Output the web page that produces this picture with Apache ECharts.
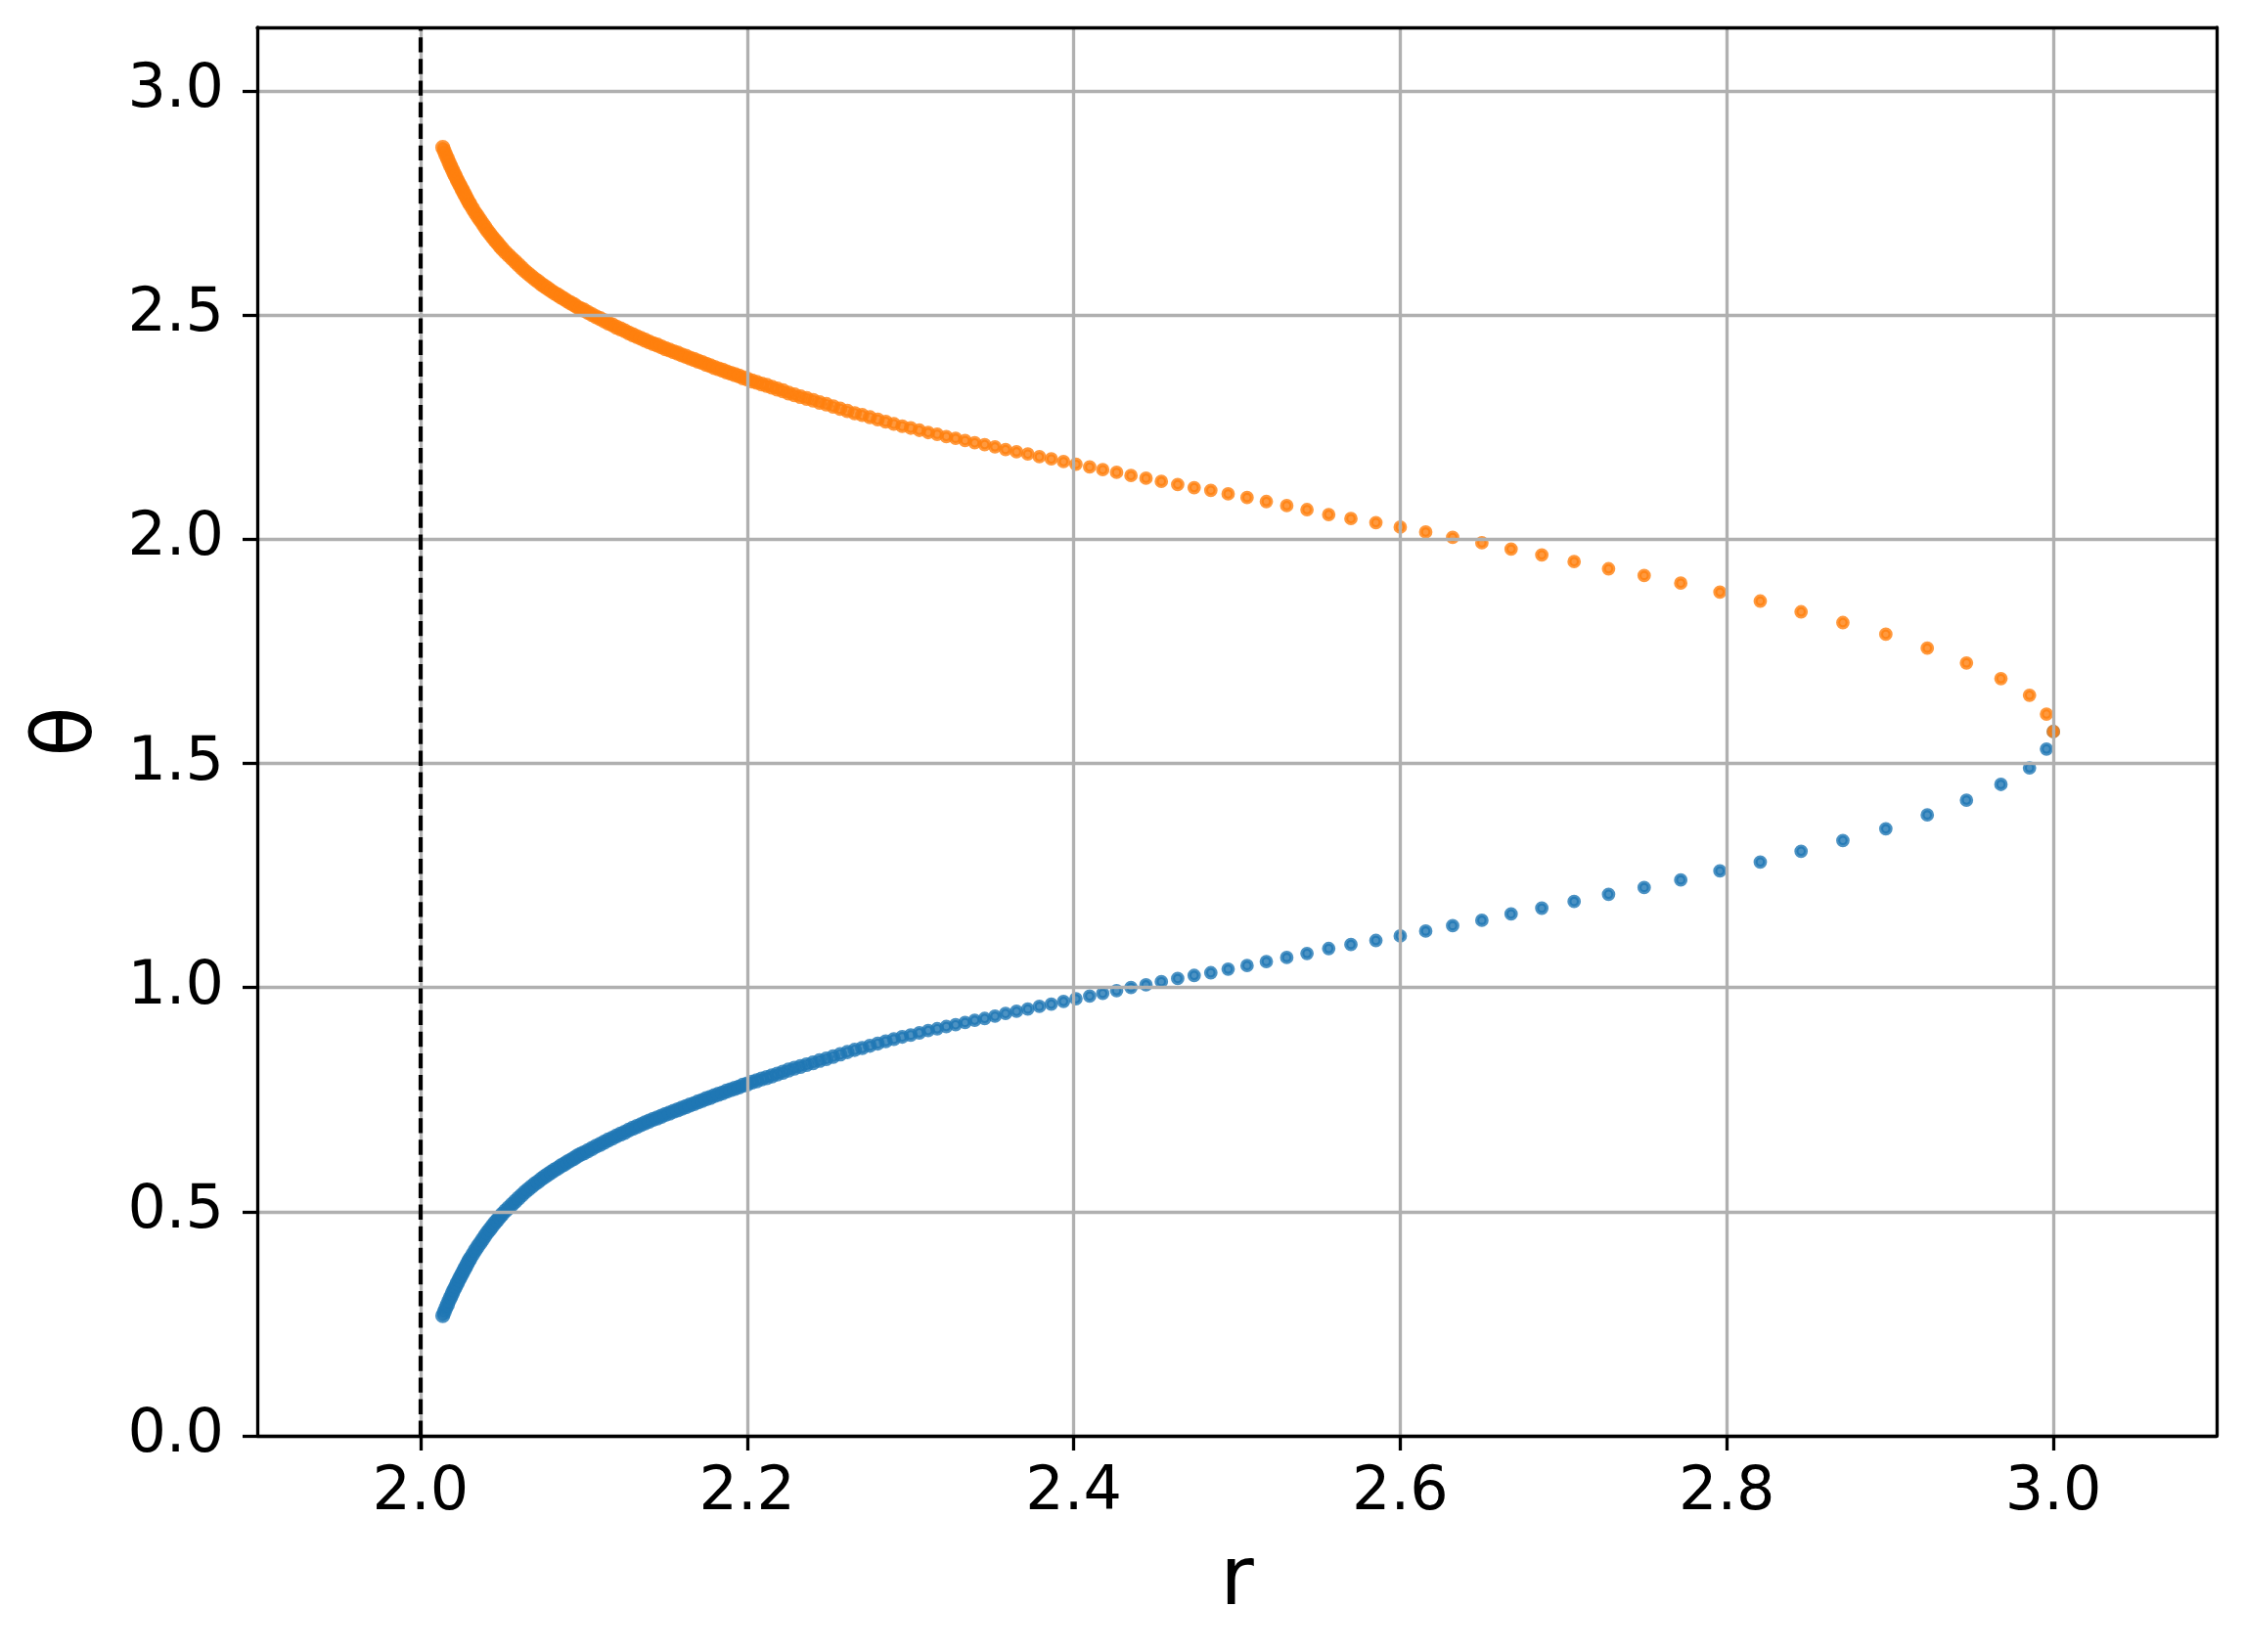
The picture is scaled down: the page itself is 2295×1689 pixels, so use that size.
<!DOCTYPE html>
<html>
<head>
<meta charset="utf-8">
<script src="https://cdn.jsdelivr.net/npm/echarts@6/dist/echarts.min.js"></script>
<style>
html, body { margin: 0; padding: 0; background: #fff; }
#main { width: 2295px; height: 1689px; }
</style>
</head>
<body>
<div id="main"></div>
<script>
// r positions (shared by both branches)
var rValues = [
  2.0136,2.0145,2.0155,2.0165,2.0175,2.0185,2.0195,2.0205,2.0215,2.0225,
  2.0235,2.0245,2.0255,2.0265,2.0275,2.0285,2.0295,2.0305,2.032,2.0335,
  2.035,2.0365,2.038,2.0395,2.041,2.0425,2.044,2.0455,2.047,2.0485,
  2.050,2.052,2.054,2.056,2.058,2.060,2.062,2.064,2.066,2.068,
  2.070,2.072,2.074,2.076,2.078,2.080,2.082,2.084,2.086,2.088,
  2.090,2.092,2.094,2.096,2.098,2.100,2.1025,2.105,2.1075,2.110,
  2.1125,2.115,2.1175,2.120,2.1225,2.125,2.1275,2.130,2.1325,2.135,
  2.1375,2.140,2.1425,2.145,2.1475,2.150,2.1525,2.155,2.1575,2.160,
  2.1625,2.165,2.1675,2.170,2.1725,2.175,2.1775,2.180,2.1825,2.185,
  2.1875,2.190,2.1925,2.195,2.1975,2.2002,2.2030,2.2059,2.2089,2.2120,
  2.2152,2.2185,2.2219,2.2254,2.2290,2.2327,2.2365,2.2404,2.2444,2.2485,
  2.2527,2.2570,2.2614,2.2659,2.2705,2.2752,2.2800,2.2849,2.2899,2.2950,
  2.3002,2.3055,2.3109,2.3164,2.3220,2.3277,2.3335,2.3394,2.3455,2.3518,
  2.3583,2.3650,2.3719,2.3790,2.3863,2.3938,2.4014,2.4098,2.4178,2.4263,
  2.4351,2.4443,2.4537,2.4637,2.4738,2.4840,2.4946,2.5062,2.5180,2.5305,
  2.5429,2.5562,2.5698,2.5851,2.6000,2.6156,2.6321,2.6500,2.6679,2.6867,
  2.7065,2.7276,2.7494,2.7718,2.7958,2.8205,2.8455,2.8711,2.8974,2.9228,
  2.9468,2.9679,2.9854,2.9958,3.0000
];

// theta of the lower (blue) branch
var thetaBlue = [
  0.268,0.276,0.285,0.293,0.302,0.310,0.318,0.326,0.333,0.341,
  0.348,0.355,0.362,0.369,0.376,0.383,0.390,0.396,0.405,0.414,
  0.422,0.430,0.438,0.446,0.454,0.461,0.468,0.475,0.481,0.488,
  0.494,0.502,0.509,0.516,0.523,0.530,0.537,0.544,0.550,0.556,
  0.562,0.567,0.573,0.578,0.583,0.588,0.593,0.597,0.602,0.606,
  0.611,0.615,0.619,0.624,0.628,0.631,0.636,0.641,0.646,0.650,
  0.655,0.660,0.664,0.669,0.673,0.677,0.682,0.686,0.690,0.694,
  0.698,0.702,0.706,0.709,0.713,0.717,0.720,0.724,0.727,0.731,
  0.734,0.738,0.741,0.745,0.748,0.752,0.755,0.759,0.762,0.765,
  0.769,0.772,0.775,0.778,0.782,0.785,0.789,0.792,0.796,0.799,
  0.803,0.807,0.811,0.816,0.820,0.824,0.828,0.832,0.837,0.841,
  0.846,0.851,0.856,0.861,0.865,0.870,0.875,0.880,0.885,0.890,
  0.894,0.899,0.904,0.908,0.913,0.917,0.922,0.927,0.931,0.936,
  0.942,0.947,0.952,0.958,0.963,0.969,0.975,0.981,0.987,0.993,
  1.000,1.006,1.013,1.020,1.027,1.033,1.041,1.049,1.058,1.067,
  1.076,1.087,1.096,1.105,1.115,1.126,1.138,1.150,1.164,1.177,
  1.192,1.208,1.223,1.240,1.260,1.280,1.304,1.328,1.354,1.385,
  1.418,1.453,1.490,1.532,1.571
];

// theta of the upper (orange) branch
var thetaOrange = [
  2.874,2.866,2.857,2.849,2.840,2.832,2.824,2.816,2.809,2.801,
  2.794,2.787,2.780,2.773,2.766,2.759,2.752,2.746,2.737,2.728,
  2.720,2.712,2.704,2.696,2.688,2.681,2.674,2.667,2.661,2.654,
  2.648,2.640,2.633,2.626,2.619,2.612,2.605,2.598,2.592,2.586,
  2.580,2.575,2.569,2.564,2.559,2.554,2.549,2.545,2.540,2.536,
  2.531,2.527,2.523,2.518,2.514,2.511,2.506,2.501,2.496,2.492,
  2.487,2.482,2.478,2.473,2.469,2.465,2.460,2.456,2.452,2.448,
  2.444,2.440,2.436,2.433,2.429,2.425,2.422,2.418,2.415,2.411,
  2.408,2.404,2.401,2.397,2.394,2.390,2.387,2.383,2.380,2.377,
  2.373,2.370,2.367,2.364,2.360,2.357,2.353,2.350,2.346,2.343,
  2.339,2.335,2.331,2.326,2.322,2.318,2.314,2.310,2.305,2.301,
  2.296,2.291,2.286,2.281,2.277,2.272,2.267,2.262,2.257,2.252,
  2.248,2.243,2.238,2.234,2.229,2.225,2.220,2.215,2.211,2.206,
  2.200,2.195,2.190,2.184,2.179,2.173,2.167,2.161,2.155,2.149,
  2.142,2.136,2.129,2.122,2.115,2.109,2.101,2.093,2.084,2.075,
  2.066,2.055,2.046,2.037,2.027,2.016,2.004,1.992,1.978,1.965,
  1.950,1.934,1.919,1.902,1.882,1.862,1.838,1.814,1.788,1.757,
  1.724,1.689,1.652,1.610,1.571
];

var xTicks = [2.0, 2.2, 2.4, 2.6, 2.8, 3.0];
var yTicks = [0.0, 0.5, 1.0, 1.5, 2.0, 2.5, 3.0];
var xRange = [1.9, 3.1];
var yRange = [0, Math.PI];
var horizonR = 2.0;

var dom = document.getElementById('main');
var myChart = echarts.init(dom, null, { renderer: 'canvas' });

var bluePts = rValues.map(function (r, i) { return [r, thetaBlue[i]]; });
var orangePts = rValues.map(function (r, i) { return [r, thetaOrange[i]]; });

var FONT = 'DejaVu Sans';
var spine = { color: '#000', width: 3.3 };

// filled dot + same-colour edge, drawn translucent so the edge ring shows darker
function dotStyle(c) {
    return { color: c, borderColor: c, borderWidth: 4.2, opacity: 0.8 };
}

// where the dots pile up into a solid band the edges read a little wider
function dotSize(val) {
    var t = (2.32 - val[0]) / 0.1;
    t = Math.max(0, Math.min(1, t));
    return 9.6 + 1.6 * t;
}

var option = {
    animation: false,
    backgroundColor: '#fff',
    grid: { left: 263, right: 29, top: 28, bottom: 221, containLabel: false },
    xAxis: [
        {
            type: 'value', min: xRange[0], max: xRange[1], position: 'bottom', z: 3,
            name: 'r', nameLocation: 'middle', nameGap: 108,
            nameTextStyle: { fontFamily: FONT, fontSize: 84, color: '#000' },
            axisLine: { show: true, onZero: false, lineStyle: spine },
            axisTick: { show: true, inside: false, length: 15, lineStyle: spine, customValues: xTicks },
            axisLabel: {
                customValues: xTicks, margin: 28,
                fontFamily: FONT, fontSize: 62, color: '#000',
                formatter: function (v) { return v.toFixed(1); }
            },
            splitLine: { show: true, lineStyle: { color: '#b0b0b0', width: 3.3 } }
        },
        {
            type: 'value', min: xRange[0], max: xRange[1], position: 'top', z: 3,
            axisLine: { show: true, onZero: false, lineStyle: spine },
            axisTick: { show: false }, axisLabel: { show: false }, splitLine: { show: false }
        }
    ],
    yAxis: [
        {
            type: 'value', min: yRange[0], max: yRange[1], position: 'left', z: 3,
            name: 'θ', nameLocation: 'middle', nameGap: 150, nameRotate: 90,
            nameTextStyle: { fontFamily: FONT, fontSize: 84, color: '#000' },
            axisLine: { show: true, onZero: false, lineStyle: spine },
            axisTick: { show: true, inside: false, length: 15, lineStyle: spine, customValues: yTicks },
            axisLabel: {
                customValues: yTicks, margin: 34,
                fontFamily: FONT, fontSize: 62, color: '#000',
                formatter: function (v) { return v.toFixed(1); }
            },
            splitLine: { show: true, lineStyle: { color: '#b0b0b0', width: 3.3 } }
        },
        {
            type: 'value', min: yRange[0], max: yRange[1], position: 'right', z: 3,
            axisLine: { show: true, onZero: false, lineStyle: spine },
            axisTick: { show: false }, axisLabel: { show: false }, splitLine: { show: false }
        }
    ],
    series: [
        {
            name: 'lower', type: 'scatter', xAxisIndex: 0, yAxisIndex: 0, z: 1,
            data: bluePts, symbol: 'circle', symbolSize: dotSize,
            itemStyle: dotStyle('#1f77b4'), emphasis: { disabled: true },
            markLine: {
                silent: true, symbol: ['none', 'none'], animation: false,
                label: { show: false },
                lineStyle: { color: '#000', width: 4.2, type: [15.4, 6.7] },
                data: [{ xAxis: horizonR }]
            }
        },
        {
            name: 'upper', type: 'scatter', xAxisIndex: 0, yAxisIndex: 0, z: 1,
            data: orangePts, symbol: 'circle', symbolSize: dotSize,
            itemStyle: dotStyle('#ff7f0e'), emphasis: { disabled: true }
        }
    ]
};

if (option && typeof option === 'object') {
    myChart.setOption(option, true);
}
</script>
</body>
</html>
